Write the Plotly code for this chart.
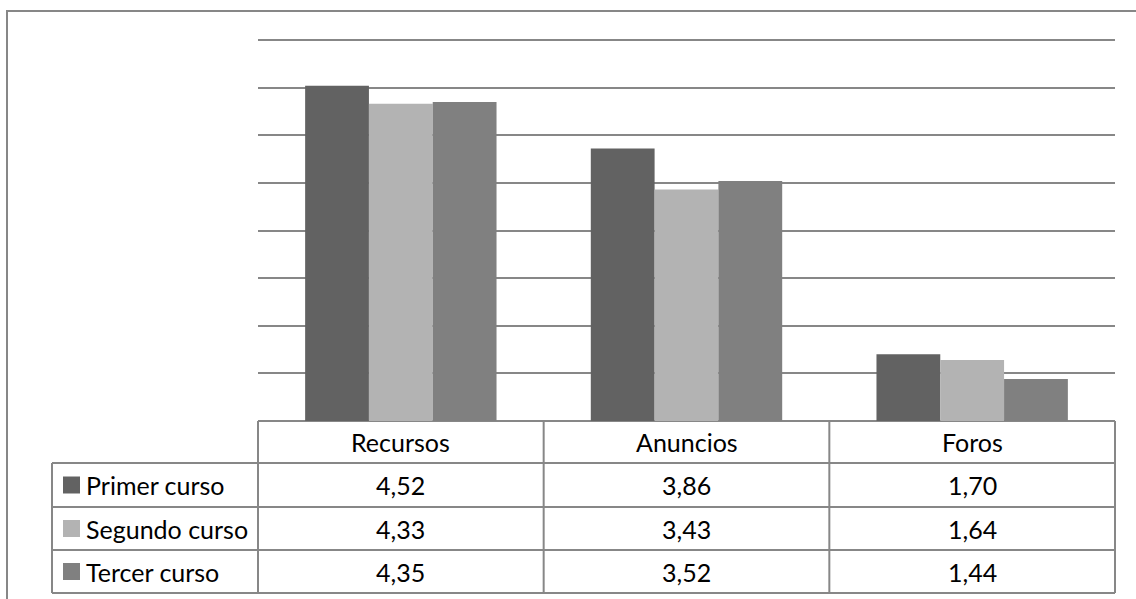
import plotly.graph_objects as go

# Data
categories = ["Recursos", "Anuncios", "Foros"]
series_names = ["Primer curso", "Segundo curso", "Tercer curso"]
primer = [4.52, 3.86, 1.70]
segundo = [4.33, 3.43, 1.64]
tercer = [4.35, 3.52, 1.44]
series_values = [primer, segundo, tercer]
colors = ["#626262", "#b3b3b3", "#808080"]
y_min, y_max, y_step = 1, 5, 0.5

W, H = 1136, 599
FONT = "Lato"
FSIZE = 25
LINE = "#878787"

# Layout in pixels
plot_left, plot_right = 258, 1115
plot_top, plot_bottom = 40, 421
row_edges = [421, 463, 507, 550, 593]
legend_left = 52


def px(x):
    return x / W


def py(y):
    return 1 - y / H


fig = go.Figure()
for name, vals, col in zip(series_names, series_values, colors):
    fig.add_trace(go.Bar(
        x=categories, y=vals, name=name,
        marker=dict(color=col, line=dict(width=0)),
        hoverinfo="skip", showlegend=False,
    ))

shapes = []
annotations = []

# Outer chart frame
shapes.append(dict(type="rect", xref="paper", yref="paper",
                   x0=px(7), x1=px(W + 20), y0=py(H + 20), y1=py(11),
                   line=dict(color=LINE, width=2), fillcolor="rgba(0,0,0,0)"))

def hline(y, x0, x1):
    shapes.append(dict(type="line", xref="paper", yref="paper",
                       x0=px(x0), x1=px(x1), y0=py(y), y1=py(y),
                       line=dict(color=LINE, width=2), layer="below"))

def vline(x, y0, y1):
    shapes.append(dict(type="line", xref="paper", yref="paper",
                       x0=px(x), x1=px(x), y0=py(y0), y1=py(y1),
                       line=dict(color=LINE, width=2)))

# Top gridline at the axis maximum (edge of the plot area)
hline(plot_top, plot_left, plot_right)

# Data table grid
col_w = (plot_right - plot_left) / len(categories)
col_edges = [plot_left + i * col_w for i in range(len(categories) + 1)]

hline(row_edges[0], plot_left, plot_right)
for y in row_edges[1:]:
    hline(y, legend_left, plot_right)
vline(legend_left, row_edges[1], row_edges[-1])
for x in col_edges:
    vline(x, row_edges[0], row_edges[-1])

# Header row: category names
hy = (row_edges[0] + row_edges[1]) / 2
for i, cat in enumerate(categories):
    cx = (col_edges[i] + col_edges[i + 1]) / 2
    annotations.append(dict(xref="paper", yref="paper", x=px(cx), y=py(hy),
                            text=cat, showarrow=False, xanchor="center",
                            yanchor="middle", font=dict(size=FSIZE, color="#000", family=FONT)))

# Series rows: legend key, name and values
for r, (name, vals, col) in enumerate(zip(series_names, series_values, colors)):
    cy = (row_edges[r + 1] + row_edges[r + 2]) / 2
    shapes.append(dict(type="rect", xref="paper", yref="paper",
                       x0=px(63), x1=px(80), y0=py(cy + 8.5), y1=py(cy - 8.5),
                       line=dict(width=0), fillcolor=col))
    annotations.append(dict(xref="paper", yref="paper", x=px(84), y=py(cy),
                            text=name, showarrow=False, xanchor="left",
                            yanchor="middle", font=dict(size=FSIZE, color="#000", family=FONT)))
    for i, v in enumerate(vals):
        cx = (col_edges[i] + col_edges[i + 1]) / 2
        annotations.append(dict(xref="paper", yref="paper", x=px(cx), y=py(cy),
                                text=f"{v:.2f}".replace(".", ","), showarrow=False,
                                xanchor="center", yanchor="middle",
                                font=dict(size=FSIZE, color="#000", family=FONT)))

fig.update_layout(
    width=W, height=H,
    margin=dict(l=0, r=0, t=0, b=0),
    paper_bgcolor="white", plot_bgcolor="white",
    barmode="group", bargap=0.33, bargroupgap=0,
    xaxis=dict(domain=[px(plot_left), px(plot_right)], showticklabels=False,
               showgrid=False, zeroline=False, showline=False, ticks=""),
    yaxis=dict(domain=[py(plot_bottom), py(plot_top)], range=[y_min, y_max],
               dtick=y_step, tick0=y_min, showticklabels=False, ticks="",
               showgrid=True, gridcolor=LINE, gridwidth=2,
               zeroline=False, showline=False),
    shapes=shapes, annotations=annotations,
    font=dict(family=FONT),
)

fig.write_html("out.html", config={"displayModeBar": False})
